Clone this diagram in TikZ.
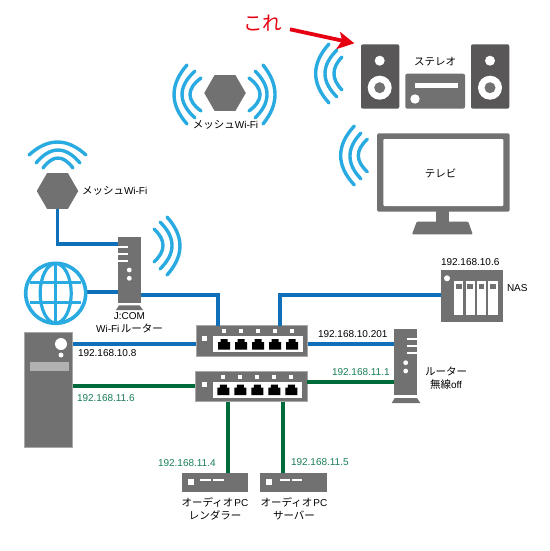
\documentclass[tikz,border=0pt]{standalone}
\usepackage{fontspec}
\setmainfont{Liberation Sans}
\newfontfamily\cjk{Noto Sans CJK JP}
\usetikzlibrary{calc,shapes.geometric}
\definecolor{devgray}{HTML}{717171}
\definecolor{spkgray}{HTML}{595757}
\definecolor{edgegray}{HTML}{A8A8A8}
\definecolor{wifiblue}{HTML}{29ABE2}
\definecolor{netblue}{HTML}{0F6FB8}
\definecolor{netgreen}{HTML}{006B3A}
\definecolor{labgreen}{HTML}{1A7F56}
\definecolor{arrowred}{HTML}{E60012}
\newcommand\jp[1]{{\cjk\fontsize{10.5}{13}\selectfont #1}}
\newcommand\warc[3]{\draw[wifiarc] (#1) .. controls ($(#1)!0.3333!(#2)+(#3)$) and ($(#1)!0.6667!(#2)+(#3)$) .. (#2);}
\tikzset{
  x=1pt,y=-1pt,
  wifiarc/.style={draw=wifiblue,line width=3.4pt,line cap=round,fill=none},
  bluelink/.style={draw=netblue,line width=3.8pt},
  greenlink/.style={draw=netgreen,line width=3.8pt},
  box/.style={fill=devgray,inner sep=0pt,outer sep=0pt,anchor=north west},
  edged/.style={box,draw=edgegray,line width=0.6pt},
  hexa/.style={regular polygon,regular polygon sides=6,fill=devgray,inner sep=0pt,outer sep=0pt,minimum size=41.5pt},
  lab/.style={inner sep=0pt,outer sep=0pt,font=\fontsize{10}{13}\selectfont,align=center},
  iplab/.style={lab,anchor=west},
  spk/.style={box,fill=spkgray,rounded corners=2pt,minimum width=38.3pt,minimum height=64.4pt},
}
\begin{document}
\begin{tikzpicture}
\useasboundingbox (0,0) rectangle (549,551);
\fill[white] (0,0) rectangle (549,551);

% devices
\node[hexa] (meshT) at (225,93) {};
\node[hexa] (meshL) at (57.5,191) {};
\node[box,minimum width=22.4pt,minimum height=66.6pt] (jcom) at (118.3,236.7) {};
\node[box,minimum width=48.7pt,minimum height=115.4pt,draw=edgegray,line width=0.6pt] (pc) at (24,332.3) {};
\node[edged,minimum width=111.7pt,minimum height=30.3pt] (swA) at (196,325.7) {};
\node[edged,minimum width=111.7pt,minimum height=30pt] (swB) at (195.3,371.7) {};
\node[box,minimum width=22.4pt,minimum height=66.6pt] (rtr) at (394.3,328.7) {};
\node[box,minimum width=62pt,minimum height=52pt] (nas) at (440.7,270) {};
\node[box,minimum width=66.6pt,minimum height=19pt] (audA) at (181.7,473.3) {};
\node[box,minimum width=67pt,minimum height=19pt] (audB) at (260.3,473.3) {};
\node[spk] (spkL) at (361,44.3) {};
\node[spk] (spkR) at (471,44.3) {};
\node[box,rounded corners=2pt,minimum width=59.7pt,minimum height=35pt] (amp) at (405.3,73.7) {};
\node[box,rounded corners=1.5pt,minimum width=132.7pt,minimum height=78.4pt] (tv) at (377,133.3) {};
\node[circle,minimum size=63pt,inner sep=0pt,outer sep=0pt] (globe) at (55.7,293.3) {};

% connectors
\draw[bluelink] (meshL.south) |- ($(jcom.north west)+(0,7)$);
\draw[bluelink] ($(globe.east)+(-1,-1)$) -- ($(jcom.north west)+(0,55.6)$);
\draw[bluelink] ($(jcom.north east)+(0,58.3)$) -| ($(swA.north west)+(22.3,0)$);
\draw[bluelink] ($(pc.north east)+(0,11.7)$) -- ($(pc.north east)+(123.3,11.7)$);
\draw[greenlink] ($(pc.north east)+(0,54)$) -- ($(pc.north east)+(122.6,54)$);
\draw[bluelink] ($(swA.north west)+(84,0)$) |- ($(nas.north west)+(0,25)$);
\draw[bluelink] ($(swA.north east)+(0,18)$) -- ($(rtr.north west)+(0,15)$);
\draw[greenlink] ($(swB.north east)+(0,10)$) -- ($(rtr.north west)+(0,53)$);
\draw[greenlink] ($(swB.south west)+(32.4,0)$) -- ($(audA.north west)+(46,0)$);
\draw[greenlink] ($(swB.south west)+(87.4,0)$) -- ($(audB.north west)+(22.4,0)$);

% wifi waves: top mesh
\warc{187,65}{187,124}{-17.3,0}
\warc{195,71}{195,118}{-17.3,0}
\warc{201,78}{201,111}{-14.7,0}
\warc{249,78}{249,111}{14.7,0}
\warc{255,71}{255,118}{16,0}
\warc{263,65}{263,124}{16,0}
% left mesh
\warc{29,155}{86,155}{0,-17.3}
\warc{36,163}{80,163}{0,-17.3}
\warc{43,168}{73,168}{0,-13.3}
% J:COM router
\warc{154,229}{154,262}{12,0}
\warc{160,222}{160,269}{16,0}
\warc{167,217}{167,275}{17.3,0}
% stereo
\warc{329,44}{329,103}{-17.8,0}
\warc{337,50}{337,97}{-16,0}
\warc{342,57}{342,90}{-10.7,0}
% tv
\warc{354.3,126}{354.3,185}{-18.2,0}
\warc{361,133}{361,179}{-14.7,0}
\warc{367.3,139.3}{367.3,171.7}{-12,0}

% J:COM router details
\foreach \yy in {246.7,254,261.3} \fill[white] (118.3,\yy-1) rectangle (128.4,\yy+1);
\foreach \yy in {270,278.3} \fill[white] (129.3,\yy) circle (2.4);
\fill[devgray] (119,305.3) -- (139.5,305.3) -- (143,310) -- (116,310) -- cycle;

% globe details
\begin{scope}[draw=wifiblue,line width=3.2pt]
\draw[line width=3.6pt] (55.7,293.3) circle (30);
\draw (55.7,263.5) -- (55.7,323);
\draw (55.7,293.3) ellipse (15.5 and 29.8);
\draw (30,282.3) -- (81.4,282.3);
\draw (30,302.3) -- (81.4,302.3);
\end{scope}

% PC details
\fill[white] (61,344) circle (6);
\fill[white] (61,355) circle (2.5);
\fill[edgegray!90!white] (30,362.3) rectangle (69,370.7);

% switches
\fill[white] (213.3,336) rectangle (302.7,352.3);
\fill[white] (202.2,335.8) rectangle (207.2,340.8);
\foreach \xx in {224,241,258,275,292} {
  \fill[white] (\xx-2,329.3) rectangle (\xx+2,333.3);
  \fill[black] (\xx-6,349.5) -- (\xx+6,349.5) -- (\xx+6,342) -- (\xx+3.5,342) -- (\xx+3.5,339) -- (\xx-3.5,339) -- (\xx-3.5,342) -- (\xx-6,342) -- cycle;
}
\fill[white] (212.7,381.7) rectangle (302,397.7);
\fill[white] (201.5,381.5) rectangle (206.5,386.5);
\foreach \xx in {223.3,240.3,257.3,274.3,291.3} {
  \fill[white] (\xx-2,375) rectangle (\xx+2,379);
  \fill[black] (\xx-6,395) -- (\xx+6,395) -- (\xx+6,387.5) -- (\xx+3.5,387.5) -- (\xx+3.5,384.5) -- (\xx-3.5,384.5) -- (\xx-3.5,387.5) -- (\xx-6,387.5) -- cycle;
}

% right router details
\foreach \yy in {338.5,345.7,353} \fill[white] (406.7,\yy-1) rectangle (416.7,\yy+1);
\foreach \yy in {362.7,371} \fill[white] (405.7,\yy) circle (2.4);
\fill[devgray] (394.8,398) -- (417,398) -- (420.3,403) -- (391.7,403) -- cycle;

% NAS details
\fill[white] (447,278.3) circle (3);
\foreach \xa/\xb in {454.3/463.3,465.7/474.6,477/485.9,488.3/497.7} {
  \fill[white] (\xa,281) rectangle (\xb,315);
  \fill[devgray] (\xa+1.7,283.5) rectangle (\xb-1.7,289.3);
}

% audio PCs details
\fill[white] (187.7,478.7) rectangle (193.7,484.7);
\fill[white] (200,478.7) rectangle (210.7,480.9);
\fill[white] (213.3,478.7) rectangle (224,480.9);
\fill[white] (266.3,478.7) rectangle (272.3,484.7);
\fill[white] (280,478.9) rectangle (290,481.1);
\fill[white] (292,478.9) rectangle (302,481.1);

% stereo details
\foreach \xx in {379.7,490} {
  \fill[white] (\xx,60.7) circle (5);
  \fill[white] (\xx,87.7) circle (12);
  \fill[devgray] (\xx,87.7) circle (5.5);
}
\fill[white] (414.7,83.3) rectangle (457.7,88);
\fill[white] (415,99) circle (4.7);

% tv details
\fill[white,rounded corners=1pt] (383.3,139) rectangle (503.3,206);
\fill[devgray] (435.7,211) rectangle (449.3,222);
\fill[devgray,rounded corners=1pt] (416.7,221.7) -- (468.3,221.7) -- (472.7,234.3) -- (412,234.3) -- cycle;

% red arrow
\coordinate (arrowStart) at (290,29.3);
\coordinate (arrowTip) at (354.3,43.3);
\draw[arrowred,line width=3.8pt] (arrowStart) -- (342,40.6);
\fill[arrowred] (arrowTip) -- (340,31.7) -- (342,40.6) -- (336,49.3) -- cycle;
\node[lab,text=arrowred,font=\cjk\fontsize{19.5}{20}\selectfont] (kore) at (262.5,23) {これ};

% labels
\node[lab] (lMeshT) at (225.5,125) {\jp{メッシュ}Wi-Fi};
\node[lab,anchor=west] (lMeshL) at (82,190.5) {\jp{メッシュ}Wi-Fi};
\node[lab] (lStereo) at (435,62) {\jp{ステレオ}};
\node[lab] (lTV) at (440.7,173.3) {\jp{テレビ}};
\node[lab] (lJcom) at (129.5,323) {J:COM\\Wi-Fi\kern1.5pt\jp{ルーター}};
\node[lab] (lRtr) at (446,378) {\jp{ルーター}\\\jp{無線}off};
\node[lab,anchor=west] (lNas) at (507,288) {NAS};
\node[lab] (lAudA) at (215,509) {\jp{オーディオ}\kern1pt PC\\\jp{レンダラー}};
\node[lab] (lAudB) at (294,509) {\jp{オーディオ}\kern1pt PC\\\jp{サーバー}};
\node[iplab] (ip1) at (78,352.7) {192.168.10.8};
\node[iplab] (ip2) at (441,262.3) {192.168.10.6};
\node[iplab] (ip3) at (318,334.3) {192.168.10.201};
\node[iplab,text=labgreen] (ip4) at (77,397.7) {192.168.11.6};
\node[iplab,text=labgreen] (ip5) at (332,372.3) {192.168.11.1};
\node[iplab,text=labgreen] (ip6) at (158,462.7) {192.168.11.4};
\node[iplab,text=labgreen] (ip7) at (291,462.3) {192.168.11.5};
\end{tikzpicture}
\end{document}
